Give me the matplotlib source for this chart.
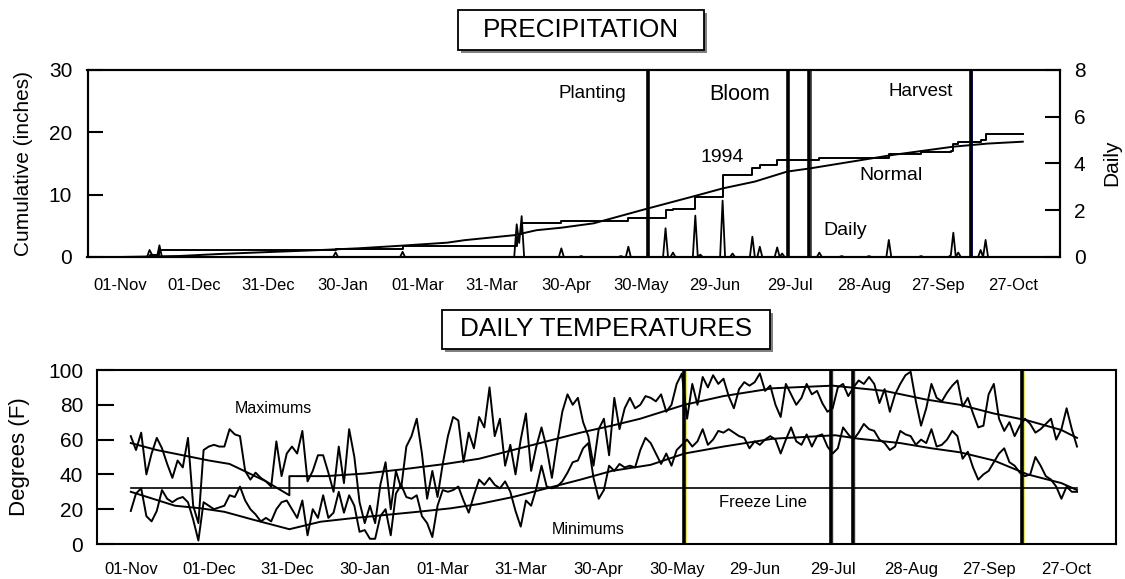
import numpy as np
import matplotlib.pyplot as plt
from matplotlib.patches import Rectangle

plt.rcParams['font.family'] = ['Liberation Sans', 'DejaVu Sans']

# x values are days after 01-Nov
tick_days = list(range(0, 361, 30))
tick_labels = ['01-Nov', '01-Dec', '31-Dec', '30-Jan', '01-Mar', '31-Mar', '30-Apr',
               '30-May', '29-Jun', '29-Jul', '28-Aug', '27-Sep', '27-Oct']

# planting, bloom start, bloom end, harvest
event_days = [213, 269.5, 278, 343]

# ---- precipitation (inches) ----
cum94_days = [0, 12, 16, 87, 114, 160, 161, 162, 178, 205, 220, 223, 232, 243,
              255, 258, 265, 282, 310, 323, 335, 336, 338, 347, 349, 364]
cum94_vals = [0, 0.4, 1.1, 1.35, 1.75, 3.2, 3.7, 5.4, 5.8, 6.3, 7.5, 7.7, 9.7, 13.2,
              14.2, 14.8, 15.5, 15.9, 16.6, 16.8, 17.0, 18.1, 18.4, 18.8, 19.8, 19.8]

normal_days = [0, 24, 40, 57, 80, 96, 113, 132, 139, 149, 159, 168, 178, 191,
               213, 231, 243, 256, 269, 278, 312, 336, 350, 364]
normal_vals = [0, 0.16, 0.48, 0.75, 1.1, 1.39, 1.8, 2.3, 2.7, 3.1, 3.5, 4.3, 4.7, 5.4,
               7.8, 9.7, 11.0, 12.1, 13.7, 14.2, 16.4, 17.7, 18.2, 18.5]

rain_days = [12, 13, 16, 87, 114, 160, 161, 162, 178, 186, 202, 205, 220, 223, 232, 234,
             243, 247, 255, 258, 265, 267, 282, 291, 302, 310, 323, 335, 336, 338, 347, 349]
rain_amts = [0.3, 0.1, 0.5, 0.2, 0.22, 1.4, 0.6, 1.75, 0.37, 0.04, 0.04, 0.44, 1.23, 0.19, 1.77, 0.1,
             2.41, 0.15, 0.87, 0.44, 0.41, 0.15, 0.19, 0.04, 0.04, 0.73, 0.04, 0.08, 1.04, 0.19, 0.3, 0.73]

# ---- temperatures (F), every second day ----
temp_days = list(range(0, 365, 2))
max_temp = [62, 54, 64, 40, 52, 61, 55, 46, 38, 48,
            44, 61, 22, 12, 54, 56, 57, 56, 56, 66,
            63, 62, 42, 37, 41, 38, 36, 33, 59, 39,
            52, 56, 52, 65, 36, 42, 51, 51, 41, 30,
            56, 35, 66, 50, 24, 12, 22, 12, 34, 47,
            20, 42, 32, 56, 62, 72, 52, 26, 42, 27,
            46, 62, 73, 71, 47, 64, 55, 73, 67, 90,
            62, 72, 45, 57, 40, 60, 75, 42, 56, 67,
            55, 38, 58, 76, 86, 80, 84, 70, 62, 45,
            66, 72, 51, 84, 66, 78, 84, 78, 80, 85,
            84, 82, 86, 76, 80, 92, 98, 72, 92, 80,
            96, 90, 97, 92, 95, 85, 78, 89, 93, 91,
            93, 98, 88, 91, 80, 73, 92, 86, 80, 84,
            92, 86, 88, 81, 76, 78, 90, 92, 85, 90,
            94, 92, 96, 92, 81, 89, 76, 86, 92, 97,
            99, 82, 68, 78, 92, 84, 82, 87, 91, 94,
            79, 84, 75, 67, 68, 86, 92, 72, 65, 70,
            62, 68, 72, 69, 64, 66, 69, 72, 60, 66,
            78, 66, 56]
min_temp = [19, 29, 32, 16, 13, 19, 31, 26, 24, 26,
            27, 24, 14, 2, 24, 22, 20, 21, 22, 28,
            27, 33, 25, 20, 17, 13, 15, 13, 20, 24,
            25, 20, 15, 25, 5, 20, 15, 28, 15, 18,
            30, 18, 28, 22, 7, 8, 3, 3, 16, 20,
            5, 29, 34, 27, 26, 28, 16, 12, 4, 22,
            31, 30, 31, 33, 25, 18, 28, 37, 34, 38,
            34, 32, 36, 30, 19, 10, 25, 22, 32, 45,
            33, 32, 33, 36, 41, 47, 48, 55, 58, 38,
            26, 31, 45, 42, 46, 44, 45, 44, 54, 61,
            58, 52, 46, 52, 45, 54, 57, 60, 56, 59,
            66, 57, 60, 65, 64, 66, 64, 62, 61, 55,
            59, 57, 60, 62, 60, 52, 60, 67, 59, 57,
            63, 56, 62, 63, 56, 52, 55, 67, 63, 60,
            64, 69, 66, 65, 60, 58, 54, 56, 65, 63,
            62, 57, 60, 58, 66, 56, 57, 60, 65, 62,
            49, 53, 44, 37, 40, 42, 47, 52, 55, 47,
            45, 41, 39, 40, 50, 45, 39, 37, 33, 26,
            33, 30, 30]

max_norm_days = [0, 10, 20, 30, 38, 45, 52, 61, 61, 75, 90, 105, 121, 134, 147, 160,
                 173, 185, 196, 213, 228, 247, 270, 280, 290, 306, 319, 332, 345, 358, 364]
max_norm_vals = [58, 54, 51, 48, 46, 41, 36, 28, 39, 39, 40.5, 43, 46, 49, 54, 59,
                 64, 68, 72, 80, 85, 89.5, 91, 89.5, 88, 83, 80, 75, 71, 65.5, 61]
min_norm_days = [0, 17, 27, 36, 47, 61, 73, 85, 98, 111, 123, 134, 147, 160, 173,
                 185, 200, 213, 228, 247, 271, 280, 296, 308, 319, 332, 345, 358, 364]
min_norm_vals = [30, 22, 20.5, 18.5, 14, 8.5, 12.8, 14.8, 16.7, 18.6, 20.5, 23, 27, 32, 37,
                 42, 45.5, 52, 56, 60.5, 62.5, 60.5, 58, 55, 52.7, 48, 40, 35, 31]
freeze_temp = 32

W, H = 1125, 579


def px_box(left, top, right, bottom):
    return [left / W, 1 - bottom / H, (right - left) / W, (bottom - top) / H]


def title_box(left, top, right, bottom, text):
    sh = 3
    fig.add_artist(Rectangle(((left + sh) / W, 1 - (bottom + sh) / H), (right - left) / W,
                             (bottom - top) / H, transform=fig.transFigure,
                             facecolor='#808080', edgecolor='none'))
    fig.add_artist(Rectangle((left / W, 1 - bottom / H), (right - left) / W,
                             (bottom - top) / H, transform=fig.transFigure,
                             facecolor='white', edgecolor='black', lw=1.3))
    fig.text((left + right) / 2 / W, 1 - (top + bottom) / 2 / H, text,
             ha='center', va='center', fontsize=18.8)


fig = plt.figure(figsize=(W / 100, H / 100), dpi=100)

# ---------------- precipitation ----------------
ax1 = fig.add_axes(px_box(87.5, 70, 1060, 257))
for d in event_days:
    ax1.axvline(d, color='black', lw=2.6)
for d in event_days[2:]:
    ax1.axvline(d + 0.7, color='#000060', lw=0.5)
ax1.plot(normal_days, normal_vals, color='black', lw=1.4)
ax1.plot(cum94_days, cum94_vals, color='black', lw=1.4, drawstyle='steps-post')
ax1.set_xlim(-13, 379)
ax1.set_ylim(0, 30)
ax1.set_yticks([0, 10, 20, 30])
ax1.set_xticks(tick_days)
ax1.set_xticklabels(tick_labels)
ax1.tick_params(axis='y', direction='in', length=11, width=1.5, labelsize=15, pad=11)
ax1.tick_params(axis='x', length=0, labelsize=12, pad=15)

ax1r = ax1.twinx()
daily = np.zeros(365)
daily[rain_days] = rain_amts
ax1r.plot(np.arange(365), daily, color='black', lw=1.3)
ax1r.set_ylim(0, 8)
ax1r.set_yticks([0, 2, 4, 6, 8])
ax1r.tick_params(direction='in', length=11, width=1.5, labelsize=15, pad=10)
for a in (ax1, ax1r):
    for s in a.spines.values():
        s.set_linewidth(1.5)

ax1.text(190.5, 26.3, 'Planting', ha='center', va='center', fontsize=13.5)
ax1.text(250, 26.0, 'Bloom', ha='center', va='center', fontsize=15.5)
ax1.text(323, 26.5, 'Harvest', ha='center', va='center', fontsize=13.5)
ax1.text(243, 16.0, '1994', ha='center', va='center', fontsize=14)
ax1.text(311, 13.0, 'Normal', ha='center', va='center', fontsize=14)
ax1.text(292.5, 4.2, 'Daily', ha='center', va='center', fontsize=14)

fig.text(24 / W, 1 - 163 / H, 'Cumulative (inches)', rotation=90,
         ha='center', va='center', fontsize=15)
fig.text(1112 / W, 1 - 163 / H, 'Daily', rotation=90,
         ha='center', va='center', fontsize=15)
title_box(458, 10, 704, 50, 'PRECIPITATION')

# ---------------- temperatures ----------------
ax2 = fig.add_axes(px_box(97, 370, 1116, 544))
for d in event_days:
    ax2.axvline(d, color='black', lw=2.6)
    ax2.axvline(d + 0.7, color='#d8d800', lw=0.45)
ax2.plot([0, 364], [freeze_temp, freeze_temp], color='black', lw=1.2)
ax2.plot(max_norm_days, max_norm_vals, color='black', lw=1.4)
ax2.plot(min_norm_days, min_norm_vals, color='black', lw=1.4)
ax2.plot(temp_days, max_temp, color='black', lw=1.4)
ax2.plot(temp_days, min_temp, color='black', lw=1.4)
ax2.set_xlim(-13, 379)
ax2.set_ylim(0, 100)
ax2.set_yticks(range(0, 101, 20))
ax2.set_xticks(tick_days)
ax2.set_xticklabels(tick_labels)
ax2.tick_params(axis='y', direction='in', length=12, width=1.5, labelsize=15, pad=10)
ax2.tick_params(axis='x', length=0, labelsize=12, pad=13)
for s in ax2.spines.values():
    s.set_linewidth(1.5)

ax2.text(55, 78, 'Maximums', ha='center', va='center', fontsize=11.5)
ax2.text(176, 8.6, 'Minimums', ha='center', va='center', fontsize=11.5)
ax2.text(243, 24, 'Freeze Line', ha='center', va='center', fontsize=12)

fig.text(20 / W, 1 - 457 / H, 'Degrees (F)', rotation=90,
         ha='center', va='center', fontsize=16)
title_box(442, 310, 770, 349, 'DAILY TEMPERATURES')

fig.savefig('out.png', dpi=100)
